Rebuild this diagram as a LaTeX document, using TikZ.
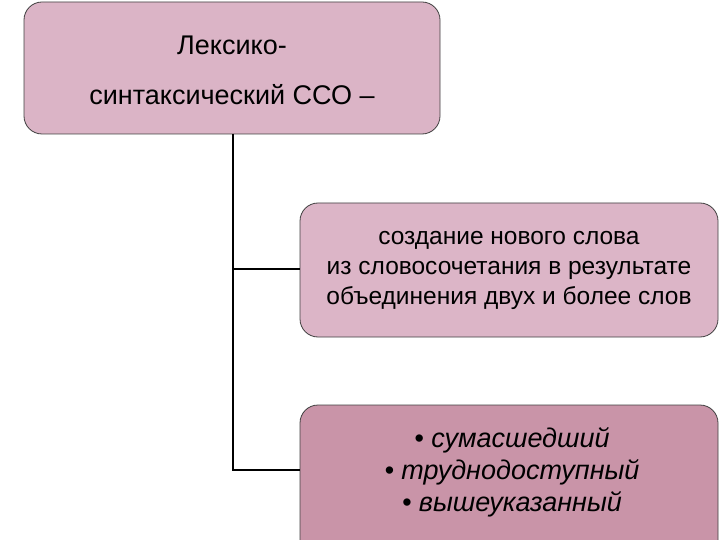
\documentclass[tikz,border=0pt]{standalone}
\usepackage{fontspec}
\setmainfont{Liberation Sans}
\begin{document}
\begin{tikzpicture}[x=1pt,y=-1pt,
  box/.style={draw=black!75,line width=0.8pt,rounded corners=18pt},
  lbl/.style={align=center},
  conn/.style={line width=1.4pt,black}]
\useasboundingbox (0,0) rectangle (720,540);
\clip (0,0) rectangle (720,540);
\draw[box,fill={rgb,255:red,219;green,180;blue,198}] (24,2) rectangle (440,134);
\node[lbl,font=\fontsize{27}{50}\selectfont] (top) at (232,70) {Лексико-\\синтаксический ССО –};
\draw[box,fill={rgb,255:red,220;green,181;blue,199}] (300,203) rectangle (718,337);
\node[lbl,font=\fontsize{24.5}{30}\selectfont] (mid) at (509,270) {создание нового слова\\из словосочетания в результате\\объединения двух и более слов};
\draw[box,fill={rgb,255:red,201;green,148;blue,168}] (300,405) rectangle (718,560);
\node[lbl,font=\itshape\fontsize{27}{32}\selectfont] (bot) at (512,472) {• сумасшедший\\• труднодоступный\\• вышеуказанный};
\coordinate (t) at (233,134);
\coordinate (b) at (233,470);
\coordinate (m) at (233,269);
\coordinate (m2) at (300,269);
\coordinate (b2) at (300,470);
\draw[conn] (t) -- (b) -- (b2);
\draw[conn] (m) -- (m2);
\end{tikzpicture}
\end{document}
